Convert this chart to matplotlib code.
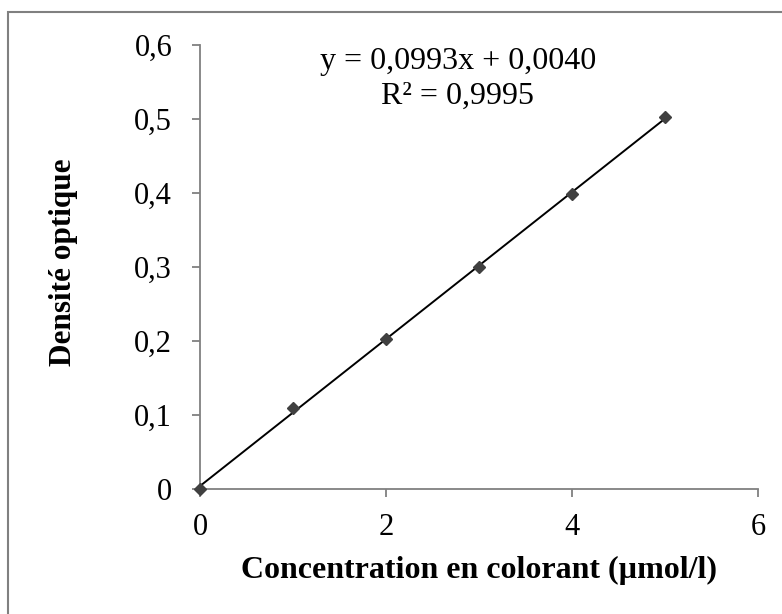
import matplotlib
matplotlib.use("Agg")
import matplotlib.pyplot as plt
import numpy as np
from matplotlib.patches import Rectangle

conc = [0, 1, 2, 3, 4, 5]
do = [0.0, 0.110, 0.203, 0.300, 0.398, 0.503]
slope = 0.0993
intercept = 0.0040
xticks = [0, 2, 4, 6]
yticks = [0, 0.1, 0.2, 0.3, 0.4, 0.5, 0.6]
ytick_labels = ["0", "0,1", "0,2", "0,3", "0,4", "0,5", "0,6"]

plt.rcParams['font.family'] = ['Liberation Serif', 'DejaVu Serif']

W, H = 782, 614
fig = plt.figure(figsize=(W/100, H/100), dpi=100)
fig.patches.append(Rectangle((8/W, -0.1), 1.2, 1 - 12/H + 0.1, transform=fig.transFigure,
                             fill=False, edgecolor='#808080', linewidth=1.5))

ax = fig.add_axes([200/W, 1 - 489/H, (758-200)/W, (489-45)/H])
xs = np.array([conc[0], conc[-1]])
ax.plot(xs, slope*xs + intercept, color='black', linewidth=1.4, zorder=2)
ax.plot(conc, do, linestyle='none', marker='D', markersize=6, color='#404040', zorder=3, clip_on=False)

ax.set_xlim(0, 6)
ax.set_ylim(0, 0.6)
ax.set_xticks(xticks)
ax.set_xticklabels([str(t) for t in xticks])
ax.set_yticks(yticks)
ax.set_yticklabels(ytick_labels)
for s in ['top', 'right']:
    ax.spines[s].set_visible(False)
for s in ['left', 'bottom']:
    ax.spines[s].set_color('#808080')
    ax.spines[s].set_linewidth(1.3)
ax.tick_params(direction='out', length=6, width=1.3, color='#808080', labelsize=22)
ax.tick_params(axis='x', pad=11)
ax.tick_params(axis='y', pad=14)

fig.text(479/W, 1 - 570/H, "Concentration en colorant (µmol/l)", fontsize=23,
         fontweight='bold', ha='center', va='center')
fig.text(78/W, 1 - 262/H, "Densité optique", fontsize=22.5, fontweight='bold',
         rotation=90, ha='right', va='center')

ax.text(2.774, 0.578, "y = 0,0993x + 0,0040", fontsize=23, ha='center', va='center')
ax.text(2.774, 0.530, "R² = 0,9995", fontsize=23, ha='center', va='center')

fig.savefig("out.png", dpi=100)
